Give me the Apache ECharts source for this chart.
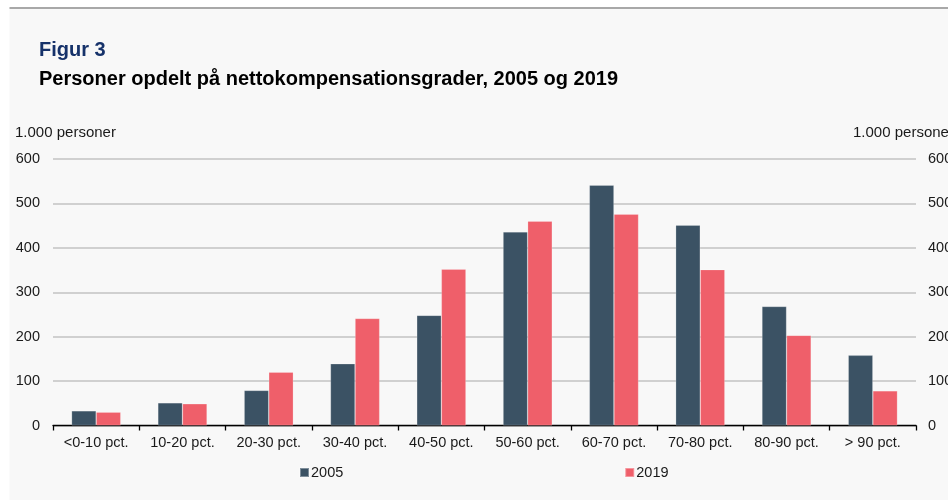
<!DOCTYPE html>
<html>
<head>
<meta charset="utf-8">
<script src="https://cdn.jsdelivr.net/npm/echarts@6/dist/echarts.min.js"></script>
<style>
html,body{margin:0;padding:0;background:#ffffff;}
#chart{width:948px;height:500px;}
</style>
</head>
<body>
<div id="chart"></div>
<script>
var categories = ['<0-10 pct.', '10-20 pct.', '20-30 pct.', '30-40 pct.', '40-50 pct.', '50-60 pct.', '60-70 pct.', '70-80 pct.', '80-90 pct.', '> 90 pct.'];
var values2005 = [33, 51, 79, 139, 248, 436, 541, 451, 268, 158];
var values2019 = [30, 49, 120, 241, 352, 460, 476, 351, 203, 78];
var yTicks = [0, 100, 200, 300, 400, 500, 600];

var FONT = '"Liberation Sans", Arial, sans-serif';
var chart = echarts.init(document.getElementById('chart'), null, {renderer: 'canvas'});

var axisLabelStyle = {fontFamily: FONT, fontSize: 14.5, color: '#1a1a1a'};

chart.setOption({
  backgroundColor: '#ffffff',
  animation: false,
  graphic: [
    {type: 'rect', z: -10, shape: {x: 9.5, y: 8, width: 940, height: 494}, style: {fill: '#f8f8f8'}},
    {type: 'line', z: -9, shape: {x1: 9.5, y1: 8, x2: 948, y2: 8}, style: {stroke: '#a8a8a8', lineWidth: 2}},
    {type: 'text', left: 15, top: 125, style: {text: '1.000 personer', font: '15px ' + FONT, fill: '#1a1a1a'}},
    {type: 'text', left: 853, top: 125, style: {text: '1.000 personer', font: '15px ' + FONT, fill: '#1a1a1a'}}
  ],
  title: [
    {text: 'Figur 3', left: 39, top: 40, padding: 0,
     textStyle: {fontFamily: FONT, fontSize: 20, fontWeight: 'bold', color: '#16326a'}},
    {text: 'Personer opdelt på nettokompensationsgrader, 2005 og 2019', left: 39, top: 69, padding: 0,
     textStyle: {fontFamily: FONT, fontSize: 20, fontWeight: 'bold', color: '#000000'}}
  ],
  legend: {
    left: 299, top: 465, padding: 0,
    itemWidth: 9, itemHeight: 9, itemGap: 281,
    icon: 'rect',
    textStyle: {fontFamily: FONT, fontSize: 14.5, color: '#1a1a1a', padding: [0, 0, 0, -3]},
    data: ['2005', '2019']
  },
  grid: {left: 53, right: 32, top: 159, bottom: 74.5, containLabel: false, outerBoundsMode: 'none'},
  xAxis: {
    type: 'category',
    data: categories,
    boundaryGap: true,
    axisLine: {show: true, lineStyle: {color: '#000000', width: 1.3}},
    axisTick: {show: true, length: 5, alignWithLabel: false, lineStyle: {color: '#000000', width: 1.3}},
    axisLabel: Object.assign({margin: 10, interval: 0}, axisLabelStyle),
    splitLine: {show: false}
  },
  yAxis: [
    {
      type: 'value', position: 'left', min: 0, max: 600, interval: 100,
      axisLine: {show: false}, axisTick: {show: false},
      axisLabel: Object.assign({margin: 13}, axisLabelStyle),
      splitLine: {show: true, lineStyle: {color: '#c3c3c3', width: 1.5}}
    },
    {
      type: 'value', position: 'right', min: 0, max: 600, interval: 100,
      axisLine: {show: false}, axisTick: {show: false},
      axisLabel: Object.assign({margin: 12}, axisLabelStyle),
      splitLine: {show: false}
    }
  ],
  series: [
    {
      name: '2005', type: 'bar', data: values2005, yAxisIndex: 0,
      barGap: '0%', barCategoryGap: '43%',
      itemStyle: {color: '#3b5264', borderColor: 'rgba(255,255,255,0.35)', borderWidth: 0.6}
    },
    {
      name: '2019', type: 'bar', data: values2019, yAxisIndex: 0,
      barGap: '0%', barCategoryGap: '43%',
      itemStyle: {color: '#ef5f6a', borderColor: 'rgba(255,255,255,0.35)', borderWidth: 0.6}
    }
  ]
});
</script>
</body>
</html>
